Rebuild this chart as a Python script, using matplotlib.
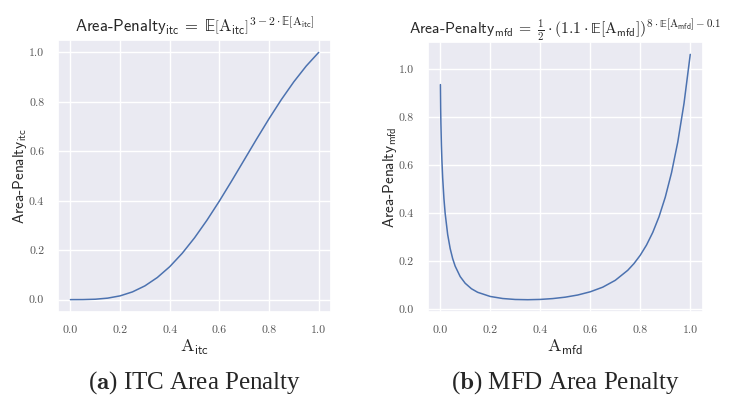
import matplotlib
matplotlib.use("Agg")
import matplotlib.pyplot as plt
import seaborn as sns

sns.set_theme(style="darkgrid")
plt.rcParams['mathtext.fontset'] = 'cm'
plt.rcParams['font.family'] = ['cmss10', 'DejaVu Sans']
plt.rcParams['axes.unicode_minus'] = False

# ITC penalty curve
itc_x = [0.0, 0.05, 0.1, 0.15, 0.2, 0.25, 0.3, 0.35, 0.4, 0.45, 0.5,
         0.55, 0.6, 0.65, 0.7, 0.75, 0.8, 0.85, 0.9, 0.95, 1.0]
itc_y = [0.0, 0.00017, 0.0016, 0.006, 0.0152, 0.0313, 0.0556, 0.0894, 0.1332,
         0.187, 0.25, 0.3212, 0.3987, 0.4808, 0.5651, 0.6495, 0.7317, 0.8096,
         0.8812, 0.9451, 1.0]

# MFD penalty curve
mfd_x = [0.001, 0.002, 0.003, 0.005, 0.007, 0.01, 0.015, 0.02, 0.03, 0.04, 0.05,
         0.06, 0.08, 0.1, 0.125, 0.15, 0.2, 0.25, 0.3, 0.35, 0.4, 0.45, 0.5,
         0.55, 0.6, 0.65, 0.7, 0.75, 0.775, 0.8, 0.825, 0.85, 0.875, 0.9,
         0.925, 0.95, 0.975, 1.0]
mfd_y = [0.9356, 0.836, 0.772, 0.683, 0.619, 0.547, 0.4606, 0.3977, 0.3102,
         0.2515, 0.2094, 0.178, 0.1346, 0.1067, 0.0838, 0.0689, 0.0516, 0.043,
         0.039, 0.038, 0.0392, 0.0427, 0.0486, 0.0576, 0.071, 0.0903, 0.1188,
         0.1607, 0.1889, 0.2235, 0.266, 0.3187, 0.3841, 0.4656, 0.5675, 0.6956,
         0.8571, 1.0617]

ticks = [0.0, 0.2, 0.4, 0.6, 0.8, 1.0]
tick_labels = ["0.0", "0.2", "0.4", "0.6", "0.8", "1.0"]

titles = [
    r'Area-Penalty$_{\mathsf{itc}}\,=\;𝔼\left[\mathrm{A}_{\mathsf{itc}}\right]^{3-2\cdot 𝔼[\mathrm{A}_{\mathsf{itc}}]}$',
    r'Area-Penalty$_{\mathsf{mfd}}\,=\;\frac{1}{2}\cdot\left(1.1\cdot 𝔼[\mathrm{A}_{\mathsf{mfd}}]\right)^{8\cdot 𝔼[\mathrm{A}_{\mathsf{mfd}}]-0.1}$',
]
title_sizes = [12, 11.3]
ylabels = [r'Area-Penalty$_{\mathsf{itc}}$', r'Area-Penalty$_{\mathsf{mfd}}$']
xlabels = [r'$\mathrm{A}_{\mathsf{itc}}$', r'$\mathrm{A}_{\mathsf{mfd}}$']
captions = [("a", "ITC Area Penalty"), ("b", "MFD Area Penalty")]

fig = plt.figure(figsize=(7.29, 4.01), dpi=100)
fig.patch.set_facecolor('white')
ax1 = fig.add_axes([0.0796, 0.222, 0.3745, 0.678])
ax2 = fig.add_axes([0.587, 0.222, 0.377, 0.673])

color = '#4C72B0'
for ax, xs, ys, t, ts, yl, xl in [(ax1, itc_x, itc_y, titles[0], title_sizes[0], ylabels[0], xlabels[0]),
                                   (ax2, mfd_x, mfd_y, titles[1], title_sizes[1], ylabels[1], xlabels[1])]:
    ax.plot(xs, ys, color=color, lw=1.1)
    ax.set_xticks(ticks)
    ax.set_xticklabels(tick_labels, family='cmr10', fontsize=8.5, color='#555555')
    ax.set_yticks(ticks)
    ax.set_yticklabels(tick_labels, family='cmr10', fontsize=8.5, color='#555555')
    ax.set_title(t, fontsize=ts, pad=6)
    ax.set_ylabel(yl, fontsize=11, labelpad=0)
    ax.set_xlabel(xl, fontsize=13, labelpad=2)
    ax.tick_params(axis='both', pad=4)

for ax, (letter, text) in zip([ax1, ax2], captions):
    pos = ax.get_position()
    cx = (pos.x0 + pos.x1) / 2
    fig.text(cx, 1 - 383 / 401, r'($\mathbf{%s}$) %s' % (letter, text),
             ha='center', va='center', fontsize=18, family='Liberation Serif')

fig.savefig('out.png', dpi=100)
